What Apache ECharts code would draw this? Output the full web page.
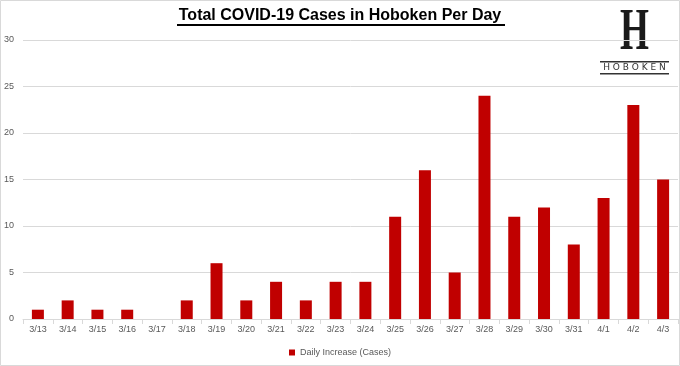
<!DOCTYPE html>
<html><head><meta charset="utf-8">
<script src="https://cdn.jsdelivr.net/npm/echarts@6/dist/echarts.min.js"></script>
<style>html,body{margin:0;padding:0;background:#fff}#c{width:680px;height:366px}</style>
</head><body><div id="c"></div>
<script>
const categories = ['3/13','3/14','3/15','3/16','3/17','3/18','3/19','3/20','3/21','3/22','3/23','3/24','3/25','3/26','3/27','3/28','3/29','3/30','3/31','4/1','4/2','4/3'];
const dailyIncrease = [1,2,1,1,0,2,6,2,4,2,4,4,11,16,5,24,11,12,8,13,23,15];
const seriesName = 'Daily Increase (Cases)';
const titleText = 'Total COVID-19 Cases in Hoboken Per Day';

const chart = echarts.init(document.getElementById('c'));
chart.setOption({
  animation: false,
  grid: {left: 23, right: 2, top: 40, bottom: 47, containLabel: false},
  xAxis: {
    type: 'category', data: categories,
    axisLine: {lineStyle: {color: '#d9d9d9'}},
    axisTick: {show: true, lineStyle: {color: '#d9d9d9'}, length: 5},
    axisLabel: {color: '#595959', fontSize: 9, fontFamily: 'Liberation Sans', margin: 6}
  },
  yAxis: {
    type: 'value', min: 0, max: 30, interval: 5,
    axisLine: {show: false}, axisTick: {show: false},
    splitLine: {lineStyle: {color: '#d9d9d9'}},
    axisLabel: {color: '#595959', fontSize: 9, fontFamily: 'Liberation Sans', margin: 9}
  },
  legend: {
    bottom: 4, left: 'center', itemWidth: 6, itemHeight: 6, itemGap: 10,
    icon: 'rect',
    textStyle: {color: '#595959', fontSize: 9, fontFamily: 'Liberation Sans'},
    data: [seriesName]
  },
  series: [{
    name: seriesName, type: 'bar', data: dailyIncrease,
    barWidth: 12, itemStyle: {color: '#c00000'}
  }],
  graphic: [
    {type: 'rect', shape: {x: 0.5, y: 0.5, width: 679, height: 365}, style: {fill: 'none', stroke: '#d9d9d9', lineWidth: 1}, silent: true},
    {type: 'text', left: 'center', top: 8, style: {text: titleText, font: 'bold 16px "Liberation Sans"', fill: '#000'}},
    {type: 'rect', shape: {x: 177, y: 24, width: 328, height: 2}, style: {fill: '#000'}},
    {type: 'text', x: 634.5, y: 33, scaleX: 0.62, style: {text: 'H', font: 'bold 60px "Liberation Serif"', fill: '#1a1a1a', align: 'center', verticalAlign: 'middle'}},
    {type: 'rect', shape: {x: 600, y: 61, width: 69, height: 1.5}, style: {fill: '#333'}},
    {type: 'rect', shape: {x: 600, y: 73, width: 69, height: 1.5}, style: {fill: '#333'}},
    {type: 'text', x: 634.5, y: 67.5, style: {text: 'H O B O K E N', font: '9px "DejaVu Sans"', fill: '#333', align: 'center', verticalAlign: 'middle'}}
  ]
});
</script></body></html>
